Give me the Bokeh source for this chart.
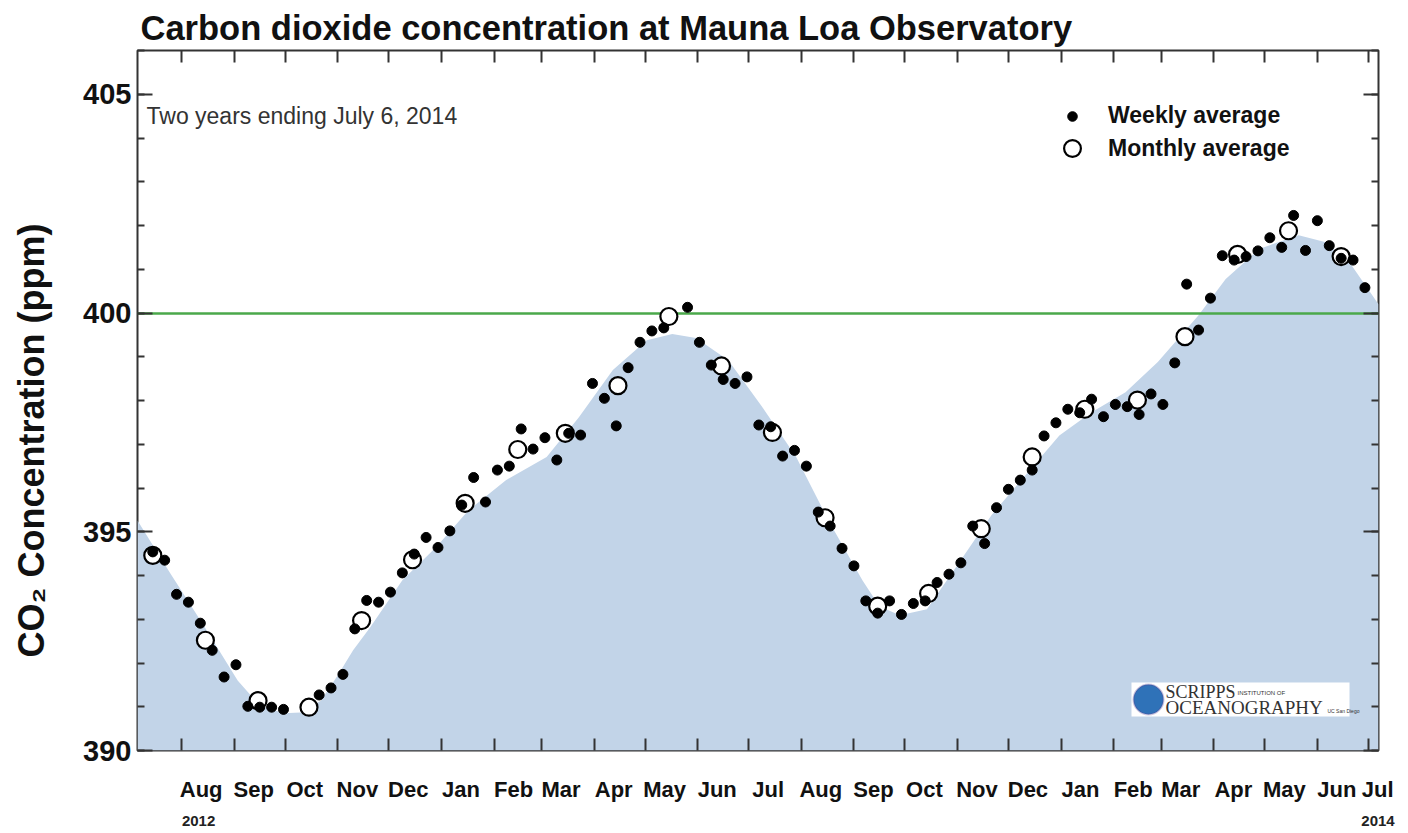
import pandas as pd
from bokeh.plotting import figure
from bokeh.models import (FixedTicker, DatetimeAxis, LinearAxis, Range1d, Label,
                          Legend, LegendItem, ColumnDataSource, BoxAnnotation)
from bokeh.embed import file_html
from bokeh.resources import INLINE

# ---------------- data ----------------
weekly_dates = [
    "2012-07-15", "2012-07-22", "2012-07-29",
    "2012-08-05", "2012-08-12", "2012-08-19", "2012-08-26",
    "2012-09-02", "2012-09-09", "2012-09-16", "2012-09-23", "2012-09-30",
    "2012-10-21", "2012-10-28",
    "2012-11-04", "2012-11-11", "2012-11-18", "2012-11-25",
    "2012-12-02", "2012-12-09", "2012-12-16", "2012-12-23", "2012-12-30",
    "2013-01-06", "2013-01-13", "2013-01-20", "2013-01-27",
    "2013-02-03", "2013-02-10", "2013-02-17", "2013-02-24",
    "2013-03-03", "2013-03-10", "2013-03-17", "2013-03-24", "2013-03-31",
    "2013-04-07", "2013-04-14", "2013-04-21", "2013-04-28",
    "2013-05-05", "2013-05-12", "2013-05-26",
    "2013-06-02", "2013-06-09", "2013-06-16", "2013-06-23", "2013-06-30",
    "2013-07-07", "2013-07-14", "2013-07-21", "2013-07-28",
    "2013-08-04", "2013-08-11", "2013-08-18", "2013-08-25",
    "2013-09-01", "2013-09-08", "2013-09-15", "2013-09-22", "2013-09-29",
    "2013-10-06", "2013-10-13", "2013-10-20", "2013-10-27",
    "2013-11-03", "2013-11-10", "2013-11-17", "2013-11-24",
    "2013-12-01", "2013-12-08", "2013-12-15", "2013-12-22", "2013-12-29",
    "2014-01-05", "2014-01-12", "2014-01-19", "2014-01-26",
    "2014-02-02", "2014-02-09", "2014-02-16", "2014-02-23",
    "2014-03-02", "2014-03-09", "2014-03-16", "2014-03-23", "2014-03-30",
    "2014-04-06", "2014-04-13", "2014-04-20", "2014-04-27",
    "2014-05-04", "2014-05-11", "2014-05-18", "2014-05-25",
    "2014-06-01", "2014-06-08", "2014-06-15", "2014-06-22", "2014-06-29",
]
weekly_co2 = [
    394.54, 394.35, 393.57,
    393.39, 392.91, 392.29, 391.68,
    391.96, 391.01, 390.99, 390.99, 390.94,
    391.27, 391.43,
    391.74, 392.78, 393.43, 393.39,
    393.62, 394.06, 394.49, 394.87, 394.64,
    395.02, 395.61, 396.24, 395.68,
    396.41, 396.50, 397.35, 396.89,
    397.15, 396.64, 397.25, 397.21, 398.39,
    398.05, 397.42, 398.75, 399.33,
    399.59, 399.66, 400.13,
    399.33, 398.81, 398.48, 398.39, 398.54,
    397.44, 397.40, 396.73, 396.86,
    396.50, 395.45, 395.13, 394.62,
    394.22, 393.42, 393.14, 393.42, 393.11,
    393.36, 393.42, 393.84, 394.03,
    394.29, 395.13, 394.73, 395.55,
    395.97, 396.18, 396.41, 397.19, 397.49,
    397.80, 397.72, 398.03, 397.63,
    397.91, 397.86, 397.68, 398.15,
    397.91, 398.86, 400.66, 399.61, 400.34,
    401.31, 401.21, 401.29, 401.42,
    401.72, 401.50, 402.23, 401.43,
    402.11, 401.54, 401.25, 401.21, 400.58,
]

monthly_dates = [
    "2012-07-15", "2012-08-15", "2012-09-15", "2012-10-15", "2012-11-15", "2012-12-15",
    "2013-01-15", "2013-02-15", "2013-03-15", "2013-04-15", "2013-05-15", "2013-06-15",
    "2013-07-15", "2013-08-15", "2013-09-15", "2013-10-15", "2013-11-15", "2013-12-15",
    "2014-01-15", "2014-02-15", "2014-03-15", "2014-04-15", "2014-05-15", "2014-06-15",
]
monthly_co2 = [
    394.46, 392.52, 391.14, 390.99, 392.97, 394.36,
    395.65, 396.88, 397.25, 398.34, 399.92, 398.79,
    397.27, 395.32, 393.30, 393.59, 395.07, 396.71,
    397.80, 398.01, 399.46, 401.34, 401.88, 401.29,
]

# smooth fitted curve (shaded area)
curve_dates = [
    "2012-07-06", "2012-07-25", "2012-08-14", "2012-09-03", "2012-09-16", "2012-09-30",
    "2012-10-10", "2012-10-22", "2012-11-01", "2012-11-10", "2012-11-20", "2012-12-09",
    "2012-12-29", "2013-01-17", "2013-02-08", "2013-03-04", "2013-03-23", "2013-04-12",
    "2013-05-02", "2013-05-17", "2013-05-31", "2013-06-19", "2013-07-09", "2013-07-29",
    "2013-08-17", "2013-09-06", "2013-09-16", "2013-09-28", "2013-10-14", "2013-11-02",
    "2013-11-21", "2013-12-11", "2013-12-31", "2014-01-19", "2014-02-08", "2014-02-27",
    "2014-03-23", "2014-04-08", "2014-04-28", "2014-05-21", "2014-06-06", "2014-06-21",
    "2014-07-07",
]
curve_co2 = [
    395.26, 394.07, 392.86, 391.60, 391.03, 390.85,
    390.87, 391.14, 391.72, 392.29, 392.81, 393.89,
    394.65, 395.49, 396.18, 396.71, 397.62, 398.70,
    399.38, 399.52, 399.43, 398.92, 397.85, 396.71,
    395.26, 393.89, 393.30, 393.09, 393.23, 394.30,
    395.38, 396.29, 397.20, 397.73, 398.19, 398.88,
    399.95, 400.78, 401.47, 401.78, 401.62, 401.10,
    400.20,
]

month_starts = [
    "2012-08-01", "2012-09-01", "2012-10-01", "2012-11-01", "2012-12-01",
    "2013-01-01", "2013-02-01", "2013-03-01", "2013-04-01", "2013-05-01", "2013-06-01",
    "2013-07-01", "2013-08-01", "2013-09-01", "2013-10-01", "2013-11-01", "2013-12-01",
    "2014-01-01", "2014-02-01", "2014-03-01", "2014-04-01", "2014-05-01", "2014-06-01",
    "2014-07-01",
]
month_labels = [
    "Aug", "Sep", "Oct", "Nov", "Dec",
    "Jan", "Feb", "Mar", "Apr", "May", "Jun",
    "Jul", "Aug", "Sep", "Oct", "Nov", "Dec",
    "Jan", "Feb", "Mar", "Apr", "May", "Jun",
    "Jul",
]
year_label_months = ["2012-08-01", "2014-07-01"]
year_labels = ["2012", "2014"]
y_major_ticks = [390, 395, 400, 405]
y_minor_ticks = list(range(390, 407))
threshold_ppm = 400

# ---------------- helpers ----------------
DAY = 86400000.0


def ms(s):
    return pd.Timestamp(s).value / 1e6


x_start, x_end = "2012-07-06", "2014-07-07"
start_ms, end_ms = ms(x_start), ms(x_end)
month_ms = [ms(m) for m in month_starts]
# month names are left-aligned at the month boundary in the original
label_ms = [min(m + 11.5 * DAY, end_ms - 0.5 * DAY) for m in month_ms]
year_ms = [min(ms(m) + 10 * DAY, end_ms - 0.3 * DAY) for m in year_label_months]

FONT = "Liberation Sans"
AX = "#333333"

p = figure(width=1400, height=830, x_axis_type="datetime",
           x_range=Range1d(pd.Timestamp(x_start), pd.Timestamp(x_end)),
           y_range=Range1d(390, 406),
           output_backend="svg", toolbar_location=None,
           min_border_left=137, min_border_right=22,
           min_border_top=50, min_border_bottom=80)
p.grid.visible = False
p.outline_line_color = AX
p.outline_line_width = 2
p.background_fill_color = "white"

p.title.text = "Carbon dioxide concentration at Mauna Loa Observatory"
p.title.text_font = FONT
p.title.text_font_size = "34.5px"
p.title.text_font_style = "bold"
p.title.text_color = "#111111"
p.title.align = "left"
p.title.offset = 3
p.title.standoff = 8

# shaded fitted curve
p.varea(x=pd.to_datetime(curve_dates), y1=390, y2=curve_co2,
        fill_color="#c2d4e8", fill_alpha=1.0)

# 400 ppm reference line
p.hspan(y=[threshold_ppm], line_color="#4aa84a", line_width=2.5)

msrc = ColumnDataSource(dict(date=pd.to_datetime(monthly_dates), co2=monthly_co2))
wsrc = ColumnDataSource(dict(date=pd.to_datetime(weekly_dates), co2=weekly_co2))
monthly_r = p.scatter("date", "co2", source=msrc, size=17, fill_color="white",
                      line_color="black", line_width=2.2)
weekly_r = p.scatter("date", "co2", source=wsrc, size=10, fill_color="black",
                     line_color="black")

# ---------------- axes ----------------
xa = p.xaxis[0]
xa.ticker = FixedTicker(ticks=label_ms, minor_ticks=month_ms)
xa.major_label_overrides = {t: l for t, l in zip(label_ms, month_labels)}
xa.major_tick_in = 0
xa.major_tick_out = 0
xa.minor_tick_in = 12
xa.minor_tick_out = 0
xa.minor_tick_line_color = AX
xa.minor_tick_line_width = 2
xa.axis_line_color = None
xa.major_label_standoff = 26
xa.major_label_text_font = FONT
xa.major_label_text_font_size = "22px"
xa.major_label_text_font_style = "bold"
xa.major_label_text_color = "#111111"

yr = DatetimeAxis(ticker=FixedTicker(ticks=year_ms, minor_ticks=[]))
yr.major_label_overrides = {t: l for t, l in zip(year_ms, year_labels)}
yr.major_tick_in = 0
yr.major_tick_out = 0
yr.minor_tick_in = 0
yr.minor_tick_out = 0
yr.axis_line_color = None
yr.major_label_standoff = 11
yr.major_label_text_font = FONT
yr.major_label_text_font_size = "15px"
yr.major_label_text_font_style = "bold"
yr.major_label_text_color = "#222222"
p.add_layout(yr, "below")

top = DatetimeAxis(ticker=FixedTicker(ticks=[], minor_ticks=month_ms))
top.major_tick_in = 0
top.major_tick_out = 0
top.minor_tick_in = 12
top.minor_tick_out = 0
top.minor_tick_line_color = AX
top.minor_tick_line_width = 2
top.axis_line_color = None
top.major_label_standoff = 0
top.major_label_text_color = None
p.add_layout(top, "above")

ya = p.yaxis[0]
ya.ticker = FixedTicker(ticks=y_major_ticks, minor_ticks=y_minor_ticks)
ya.major_tick_in = 15
ya.major_tick_out = 0
ya.minor_tick_in = 7
ya.minor_tick_out = 0
ya.major_tick_line_color = AX
ya.minor_tick_line_color = AX
ya.major_tick_line_width = 2
ya.minor_tick_line_width = 2
ya.axis_line_color = None
ya.major_label_standoff = 6
ya.major_label_text_font = FONT
ya.major_label_text_font_size = "29px"
ya.major_label_text_font_style = "bold"
ya.major_label_text_color = "#111111"
# trailing no-break spaces push the visible label below the frame centre,
# where the original places it
ya.axis_label = "CO\u2082 Concentration (ppm)" + "\u00a0" * 8
ya.axis_label_text_font = FONT
ya.axis_label_text_font_size = "36px"
ya.axis_label_text_font_style = "bold"
ya.axis_label_text_color = "#111111"
ya.axis_label_standoff = 28

ra = LinearAxis(ticker=FixedTicker(ticks=y_major_ticks, minor_ticks=y_minor_ticks))
ra.major_tick_in = 15
ra.major_tick_out = 0
ra.minor_tick_in = 7
ra.minor_tick_out = 0
ra.major_tick_line_color = AX
ra.minor_tick_line_color = AX
ra.major_tick_line_width = 2
ra.minor_tick_line_width = 2
ra.axis_line_color = None
ra.major_label_standoff = 0
ra.major_label_text_color = None
p.add_layout(ra, "right")

# ---------------- legends ----------------
leg1 = Legend(items=[LegendItem(label="Weekly average", renderers=[weekly_r])],
              location=(923, 621), glyph_width=24, glyph_height=24, label_height=24,
              label_standoff=24, padding=0, margin=0, spacing=0,
              border_line_color=None, background_fill_alpha=0,
              label_text_font=FONT, label_text_font_size="23px",
              label_text_font_style="bold", label_text_color="#111111")
leg2 = Legend(items=[LegendItem(label="Monthly average", renderers=[monthly_r])],
              location=(914, 581), glyph_width=42, glyph_height=42, label_height=42,
              label_standoff=15, padding=0, margin=0, spacing=0,
              border_line_color=None, background_fill_alpha=0,
              label_text_font=FONT, label_text_font_size="23px",
              label_text_font_style="bold", label_text_color="#111111")
p.add_layout(leg1)
p.add_layout(leg2)

# ---------------- annotations ----------------
p.add_layout(Label(x=9, y=635, x_units="screen", y_units="screen",
                   text="Two years ending July 6, 2014", text_baseline="middle",
                   text_font=FONT, text_font_size="23px", text_color="#333333"))

# Scripps logo
p.add_layout(BoxAnnotation(left=994, right=1212, bottom=34, top=68,
                           left_units="screen", right_units="screen",
                           bottom_units="screen", top_units="screen",
                           fill_color="white", fill_alpha=1, line_color=None))
p.add_layout(BoxAnnotation(left=996, right=1026, bottom=36, top=66,
                           left_units="screen", right_units="screen",
                           bottom_units="screen", top_units="screen",
                           border_radius=15, fill_color="#2f72b8", fill_alpha=1,
                           line_color="#5b3f91", line_width=2))
p.add_layout(Label(x=1028, y=59, x_units="screen", y_units="screen", text="SCRIPPS",
                   text_baseline="middle", text_font="Liberation Serif",
                   text_font_size="18px", text_color="#333333"))
p.add_layout(Label(x=1100, y=58, x_units="screen", y_units="screen", text="INSTITUTION OF",
                   text_baseline="middle", text_font=FONT,
                   text_font_size="6px", text_color="#333333"))
p.add_layout(Label(x=1028, y=43, x_units="screen", y_units="screen", text="OCEANOGRAPHY",
                   text_baseline="middle", text_font="Liberation Serif",
                   text_font_size="19px", text_color="#333333"))
p.add_layout(Label(x=1190, y=40, x_units="screen", y_units="screen", text="UC San Diego",
                   text_baseline="middle", text_font=FONT,
                   text_font_size="5px", text_color="#333333"))

open("out.html", "w").write(file_html(p, INLINE))
